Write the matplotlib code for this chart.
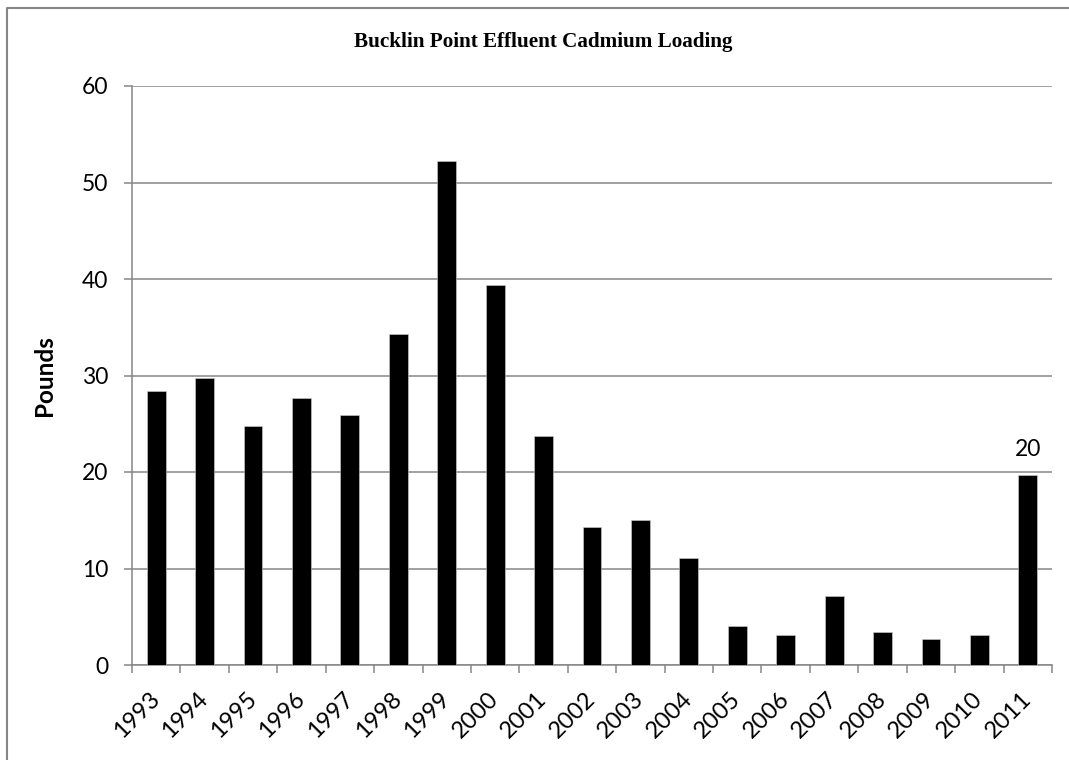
import numpy as np
import matplotlib
matplotlib.use("Agg")
import matplotlib.pyplot as plt
from matplotlib.lines import Line2D

years = [str(y) for y in range(1993, 2012)]
pounds = [28.4, 29.7, 24.8, 27.7, 25.9, 34.3, 52.2, 39.4, 23.7, 14.3,
          15.0, 11.1, 4.0, 3.1, 7.1, 3.4, 2.7, 3.1, 19.7]
y_ticks = [0, 10, 20, 30, 40, 50, 60]
label_year = "2011"
label_text = "20"

grey = "#868686"
plt.rcParams['font.family'] = ['Lato', 'DejaVu Sans']

fig = plt.figure(figsize=(10.69, 7.6), dpi=100)
W, H = 1069, 760
ax = fig.add_axes([132 / W, 1 - 665 / H, (1052 - 132) / W, (665 - 86) / H])

ax.bar(years, pounds, width=0.39, color="black", edgecolor="#d0d0d0",
       linewidth=0.4, zorder=3)

ax.set_xlim(-0.5, len(years) - 0.5)
ax.set_ylim(0, 60)
ax.set_yticks(y_ticks)
ax.grid(axis="y", color=grey, linewidth=1.1, zorder=0)

# tick marks sit between the categories
ax.set_xticks(np.arange(-0.5, len(years)), minor=True)
ax.tick_params(axis="x", which="major", length=0, pad=22, labelsize=17)
ax.tick_params(axis="x", which="minor", length=6, width=1.1, color=grey)
ax.tick_params(axis="y", length=6, width=1.1, color=grey, pad=11,
               labelsize=16.5)
for lab in ax.get_xticklabels():
    lab.set_rotation(45)
    lab.set_ha("right")
    lab.set_va("center")
    lab.set_rotation_mode("anchor")

for side in ["top", "right"]:
    ax.spines[side].set_visible(False)
for side in ["left", "bottom"]:
    ax.spines[side].set_color(grey)
    ax.spines[side].set_linewidth(1.1)

ax.set_ylabel("Pounds", fontsize=17.5, fontweight="bold")
ax.yaxis.set_label_coords(-0.083, 0.5)

i = years.index(label_year)
ax.annotate(label_text, (label_year, pounds[i]), xytext=(0, 11),
            textcoords="offset points", ha="center", va="bottom",
            fontsize=16.5)

fig.text(543 / W, 1 - 42 / H, "Bucklin Point Effluent Cadmium Loading",
         ha="center", va="center", fontsize=15.2, fontweight="bold",
         family=["Liberation Serif", "DejaVu Serif"])

# outer chart border (only left and top fall inside the image)
fig.add_artist(Line2D([6.5 / W, 6.5 / W, 1.0], [0.0, 1 - 7.5 / H, 1 - 7.5 / H],
                      transform=fig.transFigure, color=grey, linewidth=1.5))

fig.savefig("out.png", dpi=100)
